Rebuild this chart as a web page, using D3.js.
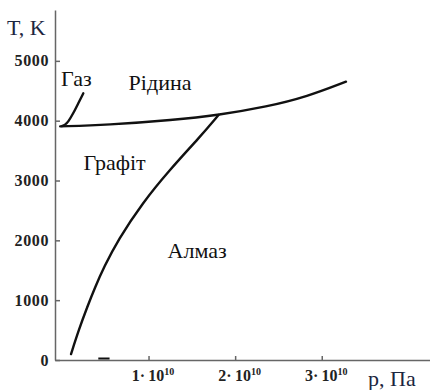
<!DOCTYPE html>
<html>
<head>
<meta charset="utf-8">
<script src="https://cdn.jsdelivr.net/npm/d3@7"></script>
<style>
  body { margin: 0; background: #fff; }
</style>
</head>
<body>
<div id="js_chart"></div>
<script>
'use strict';
// pressure in units of 1e10 Pa, temperature in K
const gasP = [0.0, 0.035, 0.074, 0.131, 0.189, 0.247];
const gasT = [3910, 3928, 3983, 4123, 4291, 4458];

const meltP = [-0.02, 0.52, 1.29, 1.81, 2.37, 2.83, 3.28];
const meltT = [3905, 3928, 4011, 4095, 4234, 4401, 4652];

const diamondP = [0.105, 0.194, 0.292, 0.384, 0.486, 0.647, 0.929, 1.242, 1.593, 1.808];
const diamondT = [100, 501, 886, 1220, 1554, 2006, 2624, 3176, 3727, 4095];

const yTicks = [0, 1000, 2000, 3000, 4000, 5000];
const xTicks = [1, 2, 3];

const phaseLabels = ['Газ', 'Рідина', 'Графіт', 'Алмаз'];
const phaseP = [-0.01, 0.77, 0.25, 1.22];
const phaseT = [4580, 4520, 3170, 1700];

const width = 430, height = 390;
const fontFamily = '"Liberation Serif", "DejaVu Serif", serif';
const inkColor = '#111';
const axisColor = '#666';
const titleColor = '#1c2640';

const svg = d3.select('#js_chart').append('svg')
	.attr('width', width)
	.attr('height', height)
	.attr('font-family', fontFamily);

const x = d3.scaleLinear().domain([-0.08, 4.25]).range([55, 430]);
const y = d3.scaleLinear().domain([0, 5850]).range([360, 10]);

// y axis
const yAxis = svg.append('g')
	.attr('transform', 'translate(' + x(-0.08) + ',0)')
	.call(d3.axisLeft(y).tickValues(yTicks).tickFormat(d3.format('d'))
		.tickSizeInner(-5).tickSizeOuter(0).tickPadding(6))
	.attr('font-family', fontFamily);
yAxis.select('.domain').attr('stroke', axisColor).attr('stroke-width', 1.5);
yAxis.selectAll('.tick line').attr('stroke', axisColor).attr('stroke-width', 1.5);
yAxis.selectAll('.tick text')
	.attr('fill', '#222')
	.style('font-family', fontFamily)
	.style('font-size', '16px')
	.style('letter-spacing', '0.6px')
	.style('font-weight', 'bold');

// x axis
const xAxis = svg.append('g')
	.attr('transform', 'translate(0,' + y(0) + ')')
	.call(d3.axisBottom(x).tickValues(xTicks).tickSizeInner(-4).tickSizeOuter(0).tickFormat(''))
	.attr('font-family', fontFamily);
xAxis.select('.domain').attr('stroke', axisColor).attr('stroke-width', 1.5);
xAxis.selectAll('.tick line').attr('stroke', axisColor).attr('stroke-width', 1.5);
xAxis.selectAll('.tick text').remove();
xAxis.selectAll('.tick').each(function (d) {
	let t = d3.select(this).append('text')
		.attr('x', 4)
		.attr('y', 21)
		.attr('text-anchor', 'middle')
		.attr('fill', '#222')
		.style('font-family', fontFamily)
		.style('font-size', '16px')
		.style('font-weight', 'bold');
	t.append('tspan').text(d + '·\u200910');
	t.append('tspan').attr('dy', -6).style('font-size', '10px').text('10');
});

// axis titles
svg.append('text')
	.attr('x', 7).attr('y', 35)
	.attr('fill', titleColor)
	.style('font-family', fontFamily)
	.style('font-size', '22px')
	.text('T, K');
svg.append('text')
	.attr('x', 368).attr('y', 386)
	.attr('fill', titleColor)
	.style('font-family', fontFamily)
	.style('font-size', '22px')
	.text('p, Па');

// phase boundaries
const line = d3.line()
	.x(function (d) { return x(d[0]); })
	.y(function (d) { return y(d[1]); })
	.curve(d3.curveBasis);

function drawCurve(ps, ts) {
	svg.append('path')
		.datum(d3.zip(ps, ts))
		.attr('d', line)
		.attr('fill', 'none')
		.attr('stroke', inkColor)
		.attr('stroke-width', 2.4)
		.attr('stroke-linecap', 'round');
}
drawCurve(gasP, gasT);
drawCurve(meltP, meltT);
drawCurve(diamondP, diamondT);

// small mark on the p axis
svg.append('line')
	.attr('x1', x(0.42)).attr('x2', x(0.55))
	.attr('y1', y(25)).attr('y2', y(25))
	.attr('stroke', inkColor)
	.attr('stroke-width', 2);

// phase labels
svg.selectAll('.phaseLabel')
	.data(phaseLabels)
	.enter().append('text')
	.classed('phaseLabel', true)
	.attr('x', function (d, i) { return x(phaseP[i]); })
	.attr('y', function (d, i) { return y(phaseT[i]); })
	.attr('fill', inkColor)
	.style('font-family', fontFamily)
	.style('font-size', '22px')
	.text(function (d) { return d; });
</script>
</body>
</html>
